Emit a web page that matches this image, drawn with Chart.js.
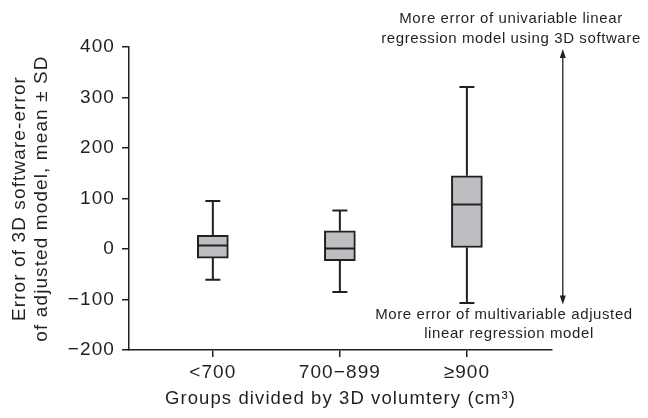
<!DOCTYPE html>
<html>
<head>
<meta charset="utf-8">
<script src="https://cdn.jsdelivr.net/npm/chart.js@4"></script>
<style>
  body { margin: 0; background: #fff; }
  #wrap { width: 648px; height: 418px; }
</style>
</head>
<body>
<div id="wrap"><canvas id="boxChart"></canvas></div>
<script>
// groups and box statistics
const groups = ['<700', '700\u2212899', '\u2265900'];
const whiskerHigh = [95, 76, 321];
const q3 = [27, 36, 145];
const medians = [7, 1, 88];
const q1 = [-18, -23, 3];
const whiskerLow = [-61, -85, -107];
const yTicks = [-200, -100, 0, 100, 200, 300, 400];

const ink = '#231f20';
const fontFamily = "'Liberation Sans', Arial, sans-serif";

// whiskers, caps and medians drawn from the scales
const boxExtras = {
    id: 'boxExtras',
    afterDatasetsDraw(chart) {
        const { ctx, scales: { x, y } } = chart;
        ctx.save();
        ctx.strokeStyle = ink;
        ctx.lineWidth = 2;
        groups.forEach((g, i) => {
            const cx = x.getPixelForValue(i);
            const half = 15;
            const cap = 7.5;
            ctx.beginPath();
            ctx.moveTo(cx, y.getPixelForValue(q3[i]));
            ctx.lineTo(cx, y.getPixelForValue(whiskerHigh[i]));
            ctx.moveTo(cx - cap, y.getPixelForValue(whiskerHigh[i]));
            ctx.lineTo(cx + cap, y.getPixelForValue(whiskerHigh[i]));
            ctx.moveTo(cx, y.getPixelForValue(q1[i]));
            ctx.lineTo(cx, y.getPixelForValue(whiskerLow[i]));
            ctx.moveTo(cx - cap, y.getPixelForValue(whiskerLow[i]));
            ctx.lineTo(cx + cap, y.getPixelForValue(whiskerLow[i]));
            ctx.moveTo(cx - half, y.getPixelForValue(medians[i]));
            ctx.lineTo(cx + half, y.getPixelForValue(medians[i]));
            ctx.stroke();
        });
        ctx.restore();
    }
};

// double arrow and the two notes on the right
const notes = {
    id: 'notes',
    beforeDraw(chart) {
        chart.ctx.letterSpacing = '1.1px';
    },
    afterDraw(chart) {
        const { ctx, scales: { x, y } } = chart;
        const ax = x.getPixelForValue(2.755);
        const top = y.getPixelForValue(396);
        const bottom = y.getPixelForValue(-110);
        ctx.save();
        ctx.strokeStyle = ink;
        ctx.fillStyle = ink;
        ctx.lineWidth = 1.3;
        ctx.beginPath();
        ctx.moveTo(ax, top + 8);
        ctx.lineTo(ax, bottom - 8);
        ctx.stroke();
        ctx.beginPath();
        ctx.moveTo(ax, top);
        ctx.lineTo(ax - 3, top + 9);
        ctx.lineTo(ax + 3, top + 9);
        ctx.closePath();
        ctx.fill();
        ctx.beginPath();
        ctx.moveTo(ax, bottom);
        ctx.lineTo(ax - 3, bottom - 9);
        ctx.lineTo(ax + 3, bottom - 9);
        ctx.closePath();
        ctx.fill();

        ctx.letterSpacing = '0.6px';
        ctx.font = '15px ' + fontFamily;
        ctx.textAlign = 'center';
        ctx.textBaseline = 'alphabetic';
        ctx.fillText('More error of univariable linear', 511, 23);
        ctx.fillText('regression model using 3D software', 511, 43);
        ctx.fillText('More error of multivariable adjusted', 504, 319);
        ctx.fillText('linear regression model', 509, 338);
        ctx.restore();
    }
};

const ctx = document.getElementById('boxChart').getContext('2d');
const boxChart = new Chart(ctx, {
    type: 'bar',
    data: {
        datasets: [{
            data: groups.map((g, i) => ({ x: i, y: [q1[i], q3[i]] })),
            backgroundColor: '#bdbec2',
            borderColor: ink,
            borderWidth: 2,
            borderSkipped: false,
            barThickness: 31
        }]
    },
    options: {
        responsive: true,
        maintainAspectRatio: false,
        animation: false,
        layout: { padding: { top: 47, right: 96, left: 0, bottom: 0 } },
        plugins: {
            legend: { display: false },
            tooltip: { enabled: false }
        },
        scales: {
            x: {
                type: 'linear',
                offset: false,
                min: -0.66,
                max: 2.67,
                afterBuildTicks: (scale) => {
                    scale.ticks = groups.map((g, i) => ({ value: i }));
                },
                afterFit: (scale) => { scale.height = 68; },
                grid: { offset: false, drawOnChartArea: false, color: ink, tickLength: 7, lineWidth: 1.5 },
                border: { color: ink, width: 1.5 },
                ticks: {
                    color: ink,
                    padding: 4,
                    font: { family: fontFamily, size: 19 },
                    callback: (v) => groups[v]
                },
                title: {
                    display: true,
                    text: 'Groups divided by 3D volumtery (cm\u00b3)',
                    color: ink,
                    font: { family: fontFamily, size: 18.5, lineHeight: 1.16 },
                    padding: { top: 0, bottom: 8 }
                }
            },
            y: {
                min: yTicks[0],
                max: yTicks[yTicks.length - 1],
                afterBuildTicks: (scale) => {
                    scale.ticks = yTicks.map(v => ({ value: v }));
                },
                afterFit: (scale) => { scale.width = 129; },
                grid: { drawOnChartArea: false, color: ink, tickLength: 7, lineWidth: 1.5 },
                border: { color: ink, width: 1.5 },
                ticks: {
                    color: ink,
                    padding: 7,
                    font: { family: fontFamily, size: 19 },
                    callback: (v) => v < 0 ? '\u2212' + Math.abs(v) : v
                },
                title: {
                    display: true,
                    text: ['Error of 3D software-error', 'of adjusted model, mean \u00b1 SD'],
                    color: ink,
                    font: { family: fontFamily, size: 19, lineHeight: 1.16 },
                    padding: { top: 9, bottom: 0 }
                }
            }
        }
    },
    plugins: [boxExtras, notes]
});
</script>
</body>
</html>
